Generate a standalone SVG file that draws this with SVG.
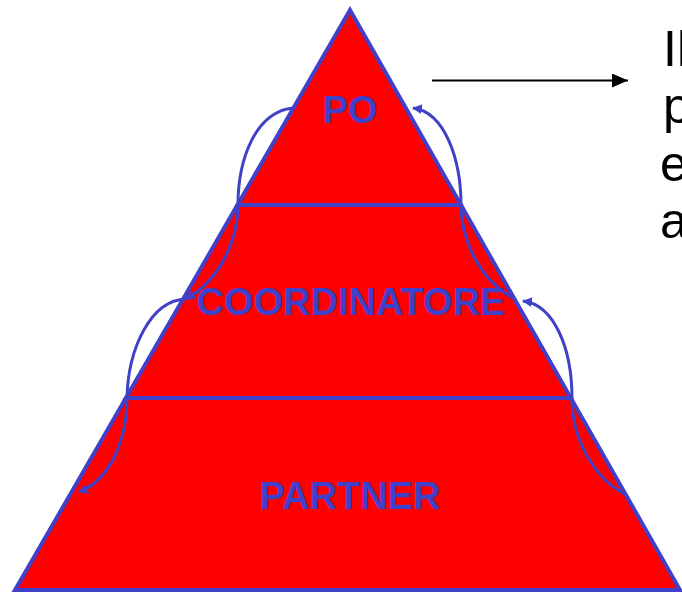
<svg xmlns="http://www.w3.org/2000/svg" width="682" height="593" viewBox="0 0 682 593">
<style>
.tier{fill:#FF0000;stroke:#4040C8;stroke-width:4;stroke-linejoin:miter}
.lbl{font-family:"Liberation Sans",Arial,sans-serif;font-weight:bold;font-size:38px;fill:#4040C8;text-anchor:middle}
.arc{fill:none;stroke:#4040C8;stroke-width:3}
.note{font-family:"Liberation Sans",Arial,sans-serif;font-size:50px;fill:#000}
</style>
<defs>
<marker id="bh" viewBox="0 0 10 10" refX="9" refY="5" markerWidth="10" markerHeight="10" markerUnits="userSpaceOnUse" orient="auto">
<path d="M0,0 L10,5 L0,10 z" fill="#4040C8"/>
</marker>
<marker id="kh" viewBox="0 0 10 10" refX="10" refY="5" markerWidth="16" markerHeight="14" markerUnits="userSpaceOnUse" orient="auto" preserveAspectRatio="none">
<path d="M0,0 L10,5 L0,10 z" fill="#000"/>
</marker>
</defs>
<rect width="682" height="593" fill="#fff"/>
<g id="partner">
<polygon class="tier" points="125.9,398 570.8,398 680,590 15,590"/>
<text class="lbl" x="350" y="509">PARTNER</text>
</g>
<g id="coordinatore">
<polygon class="tier" points="237.4,205 461,205 570.8,398 125.9,398"/>
<text class="lbl" x="351" y="315">COORDINATORE</text>
</g>
<g id="po">
<polygon class="tier" points="350,10 461,205 237.4,205"/>
<text class="lbl" x="350" y="123">PO</text>
</g>
<g id="connectors">
<path class="arc" d="M293,108 C255,112 238,160 238,205 C238,240 220,280 186,299" marker-end="url(#bh)"/>
<path class="arc" d="M186,299 C150,300 128,350 127,398 C127,440 110,480 79,492" marker-end="url(#bh)"/>
<path class="arc" d="M513,298 C480,280 461,240 461,205 C461,160 445,112 413,108" marker-end="url(#bh)"/>
<path class="arc" d="M627,495 C595,480 572,440 572,398 C572,350 555,305 523,301" marker-end="url(#bh)"/>
<line x1="432" y1="80.5" x2="628" y2="80.5" stroke="#000" stroke-width="2" marker-end="url(#kh)"/>
</g>
<g id="note">
<text class="note" x="663" y="66">Il</text>
<text class="note" x="663" y="123">p</text>
<text class="note" x="660" y="181">e</text>
<text class="note" x="660" y="238">a</text>
</g>
</svg>
